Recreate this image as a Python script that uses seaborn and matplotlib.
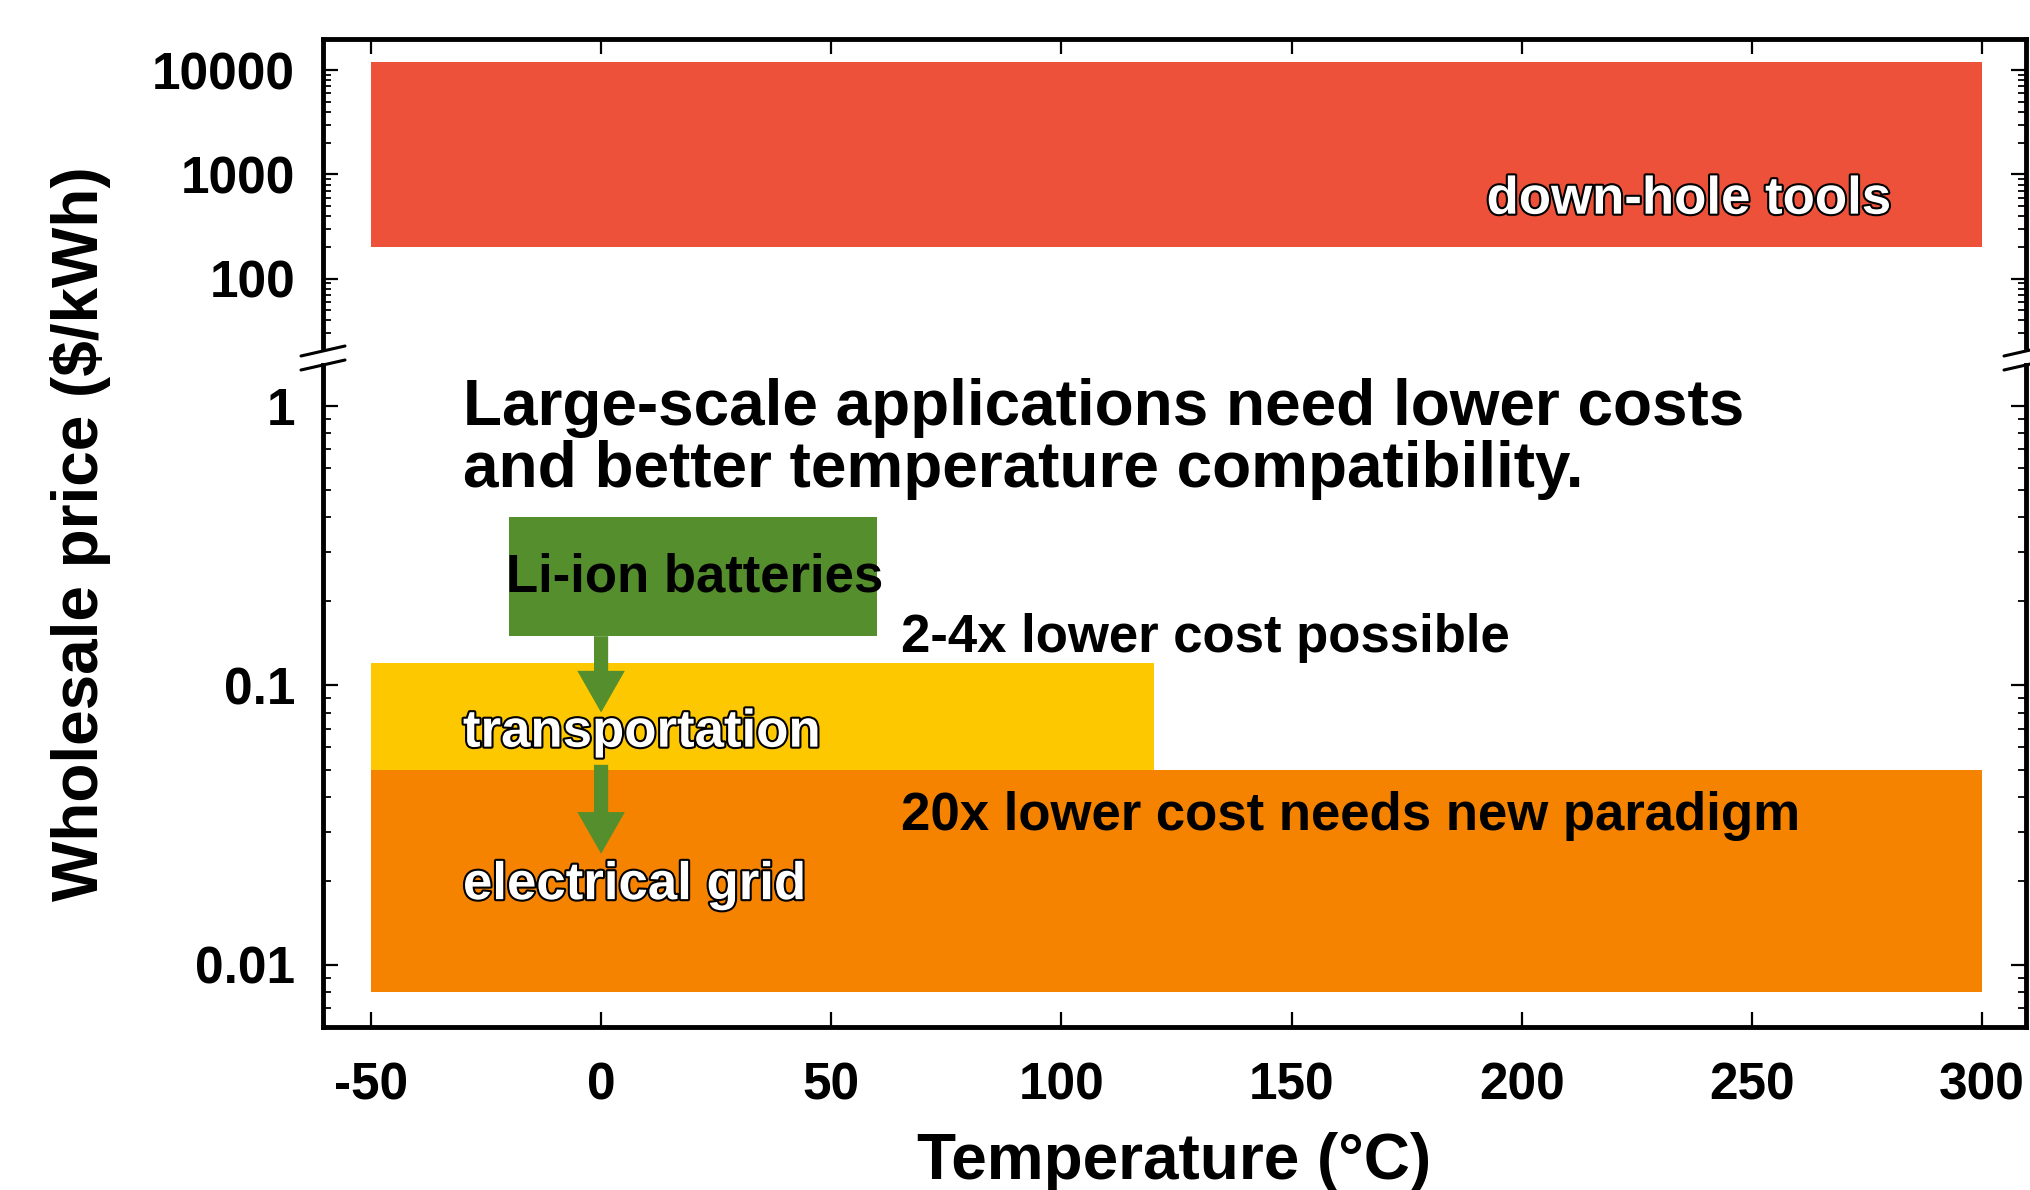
import matplotlib
matplotlib.use('Agg')
import matplotlib.pyplot as plt
import matplotlib.patheffects as pe
from matplotlib.lines import Line2D
from matplotlib.patches import ArrowStyle
from matplotlib.ticker import FixedLocator, FixedFormatter, LogLocator, NullFormatter
import seaborn as sns
import pandas as pd

# application windows: temperature span (degC) and price span ($/kWh)
apps = ['down-hole tools', 'transportation', 'electrical grid', 'Li-ion batteries']
t_low = [-50, -50, -50, -20]
t_high = [300, 120, 300, 60]
price_low = [200, 0.05, 0.008, 0.15]
price_high = [12000, 0.12, 0.05, 0.40]
colors = ['#EE5139', '#FDC800', '#F58300', '#548E2D']

x_ticks = [-50, 0, 50, 100, 150, 200, 250, 300]
top_ticks = [100, 1000, 10000]
top_labels = ['100', '1000', '10000']
bot_ticks = [0.01, 0.1, 1]
bot_labels = ['0.01', '0.1', '1']

# Li-ion -> transportation -> grid arrows at 0 degC
arrow_x = [0, 0]
arrow_from = [0.15, 0.052]
arrow_to = [0.08, 0.025]

df = pd.DataFrame(dict(app=apps, t_low=t_low, t_high=t_high,
                       lo=price_low, hi=price_high, color=colors))

sns.set_theme(style='ticks')
plt.rcParams['font.family'] = ['Liberation Sans', 'DejaVu Sans']
plt.rcParams['font.weight'] = 'bold'
plt.rcParams['text.color'] = 'black'
plt.rcParams['axes.labelcolor'] = 'black'
plt.rcParams['xtick.color'] = 'black'
plt.rcParams['ytick.color'] = 'black'

W, H = 2030, 1190
fig = plt.figure(figsize=(W / 100, H / 100), dpi=100)
L, R = 323 / W, 2026 / W
ax_top = fig.add_axes([L, 1 - 347 / H, R - L, (347 - 39) / H])
ax_bot = fig.add_axes([L, 1 - 1027 / H, R - L, (1027 - 365) / H])

for ax in (ax_top, ax_bot):
    ax.set_yscale('log')
    ax.bar(df['t_low'], df['hi'] - df['lo'], bottom=df['lo'],
           width=df['t_high'] - df['t_low'], align='edge',
           color=df['color'], linewidth=0, zorder=1)
    ax.set_xlim(-60.4, 309.5)
    ax.set_xticks(x_ticks)
    ax.yaxis.set_minor_locator(LogLocator(base=10, subs=range(2, 10), numticks=20))
    ax.yaxis.set_minor_formatter(NullFormatter())
    ax.tick_params(which='major', direction='in', length=11, width=1.6,
                   labelsize=37, pad=20, colors='black')
    ax.tick_params(which='minor', direction='in', length=5.5, width=1.3, colors='black')
    ax.tick_params(axis='y', which='both', left=True, right=True)
    for s in ax.spines.values():
        s.set_linewidth(3.5)
        s.set_color('black')
    ax.grid(False)
    ax.set_facecolor('white')

ax_top.set_ylim(22, 20000)
ax_top.yaxis.set_major_locator(FixedLocator(top_ticks))
ax_top.yaxis.set_major_formatter(FixedFormatter(top_labels))
ax_top.spines['bottom'].set_visible(False)
ax_top.tick_params(axis='x', which='both', top=True, bottom=False,
                   labeltop=False, labelbottom=False)

ax_bot.set_ylim(0.006, 1.4)
ax_bot.yaxis.set_major_locator(FixedLocator(bot_ticks))
ax_bot.yaxis.set_major_formatter(FixedFormatter(bot_labels))
ax_bot.spines['top'].set_visible(False)
ax_bot.tick_params(axis='x', which='both', top=False, bottom=True, pad=24.5)
ax_bot.set_xticklabels([str(t) for t in x_ticks])
ax_bot.set_xlabel('Temperature (°C)', fontsize=46, fontweight='bold',
                  labelpad=15.5, color='black')

fig.text(0.0395, 1 - 534 / H, 'Wholesale price ($/kWh)', rotation=90,
         ha='center', va='center', fontsize=46, fontweight='bold', color='black')

# axis break marks
for xc in (L, R):
    for yc in (351, 365):
        fig.add_artist(Line2D([xc - 22 / W, xc + 22 / W],
                              [1 - (yc + 5) / H, 1 - (yc - 5) / H],
                              color='black', lw=2.2, clip_on=False))

# arrows
style = ArrowStyle('simple', head_length=0.5, head_width=0.57, tail_width=0.17)
for x, y0, y1 in zip(arrow_x, arrow_from, arrow_to):
    ax_bot.annotate('', xy=(x, y1), xytext=(x, y0),
                    arrowprops=dict(arrowstyle=style, mutation_scale=60,
                                    fc=colors[3], ec=colors[3], lw=0,
                                    shrinkA=0, shrinkB=0), zorder=2)

outline = [pe.withStroke(linewidth=3, foreground='black')]
ax_top.text(280, 420, 'down-hole tools', ha='right', va='baseline', fontsize=38,
            color='white', fontweight='bold', path_effects=outline, zorder=3)
ax_bot.text(-30, 0.0604, 'transportation', ha='left', va='baseline', fontsize=38,
            color='white', fontweight='bold', path_effects=outline, zorder=3)
ax_bot.text(-30, 0.0172, 'electrical grid', ha='left', va='baseline', fontsize=38,
            color='white', fontweight='bold', path_effects=outline, zorder=3)
ax_bot.text(-20.6, 0.217, 'Li-ion batteries', ha='left', va='baseline', fontsize=38,
            color='black', fontweight='bold', zorder=3)
ax_bot.text(65.2, 0.132, '2-4x lower cost possible', ha='left', va='baseline',
            fontsize=38, fontweight='bold', color='black', zorder=3)
ax_bot.text(65.2, 0.0305, '20x lower cost needs new paradigm', ha='left', va='baseline',
            fontsize=38, fontweight='bold', color='black', zorder=3)
ax_bot.text(-30, 0.854, 'Large-scale applications need lower costs', ha='left',
            va='baseline', fontsize=46, fontweight='bold', color='black', zorder=3)
ax_bot.text(-30, 0.513, 'and better temperature compatibility.', ha='left',
            va='baseline', fontsize=46, fontweight='bold', color='black', zorder=3)

fig.savefig('out.png', dpi=100)
